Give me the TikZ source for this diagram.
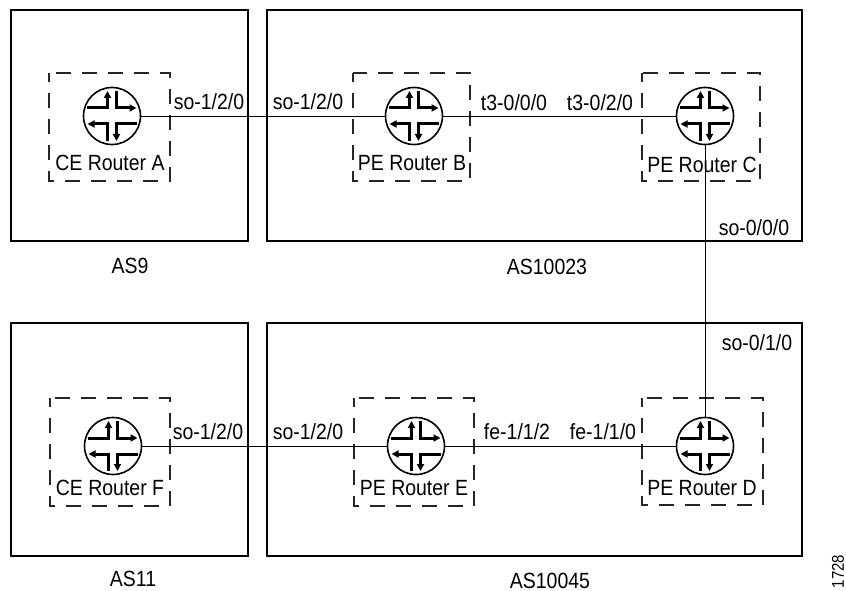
\documentclass[tikz,border=0pt]{standalone}
\usepackage{fontspec}
\setmainfont[FakeStretch=0.885]{Liberation Sans}
\usetikzlibrary{arrows.meta}
\tikzset{
  dashbox/.style={draw=black!85,line width=1.1pt,dash pattern=on 15pt off 11pt,dash phase=6pt},
  asbox/.style={line width=1.7pt},
  routernode/.style={circle,draw=black,line width=1.6pt,minimum size=57pt,inner sep=0pt},
  link/.style={draw=black,line width=0.9pt},
  lab/.style={font=\fontsize{22}{24}\selectfont,inner sep=0pt,anchor=base},
  flow/.style={line width=3pt,-{Triangle[length=7pt,width=7pt]}}
}
\newcommand{\routerglyph}[1]{%
  \draw[flow] ([shift={(-25pt,8pt)}]#1.center) -- ++(20.5pt,0) -- ++(0,17pt);
  \draw[flow] ([shift={(4.5pt,25pt)}]#1.center) -- ++(0,-17pt) -- ++(20pt,0);
  \draw[flow] ([shift={(25pt,-8pt)}]#1.center) -- ++(-20.5pt,0) -- ++(0,-17pt);
  \draw[flow] ([shift={(-4.5pt,-25pt)}]#1.center) -- ++(0,17pt) -- ++(-20pt,0);
}
\begin{document}
\begin{tikzpicture}[x=1pt,y=-1pt]
\useasboundingbox (0,0) rectangle (846,591);
% AS boxes
\draw[asbox] (11,10) rectangle (248,241);
\draw[asbox] (267,10) rectangle (802,241);
\draw[asbox] (11,323) rectangle (248,556);
\draw[asbox] (267,323) rectangle (802,556);
% dashed boxes
\draw[dashbox] (49,73) rectangle (170,181);
\draw[dashbox] (353,73) rectangle (470,181);
\draw[dashbox] (642,73) rectangle (760,181);
\draw[dashbox] (50,398) rectangle (170,506);
\draw[dashbox] (354,398) rectangle (474,506);
\draw[dashbox] (642,398) rectangle (763,505);
% routers
\node[routernode] (A) at (112,116) {};
\node[routernode] (B) at (414,116) {};
\node[routernode] (C) at (705,116) {};
\node[routernode] (F) at (113,446) {};
\node[routernode] (E) at (416,446) {};
\node[routernode] (D) at (705,446) {};
\foreach \r in {A,B,C,D,E,F} {\routerglyph{\r}}
% links
\draw[link] (A) -- (B);
\draw[link] (B) -- (C);
\draw[link] (C) -- (D);
\draw[link] (F) -- (E);
\draw[link] (E) -- (D);
% router labels
\node[lab] (la) at (110,171) {CE Router A};
\node[lab] (lb) at (412,171) {PE Router B};
\node[lab] (lc) at (702,172) {PE Router C};
\node[lab] (lf) at (110,495) {CE Router F};
\node[lab] (le) at (414,495) {PE Router E};
\node[lab] (ld) at (702,495) {PE Router D};
% interface labels
\node[lab] (i1) at (209,110) {so-1/2/0};
\node[lab] (i2) at (308,110) {so-1/2/0};
\node[lab] (i3) at (514,111) {t3-0/0/0};
\node[lab] (i4) at (600,111) {t3-0/2/0};
\node[lab] (i5) at (754,235) {so-0/0/0};
\node[lab] (i6) at (757,350) {so-0/1/0};
\node[lab] (i7) at (208,439) {so-1/2/0};
\node[lab] (i8) at (308,439) {so-1/2/0};
\node[lab] (i9) at (517,439) {fe-1/1/2};
\node[lab] (i10) at (603,439) {fe-1/1/0};
% AS labels
\node[lab] (as9) at (130,273) {AS9};
\node[lab] (as1) at (547,274) {AS10023};
\node[lab] (as11) at (133,586) {AS11};
\node[lab] (as2) at (550,588) {AS10045};
\node[font=\fontsize{17}{19}\selectfont,rotate=90,inner sep=0pt] (id) at (838,571.5) {1728};
\end{tikzpicture}
\end{document}
